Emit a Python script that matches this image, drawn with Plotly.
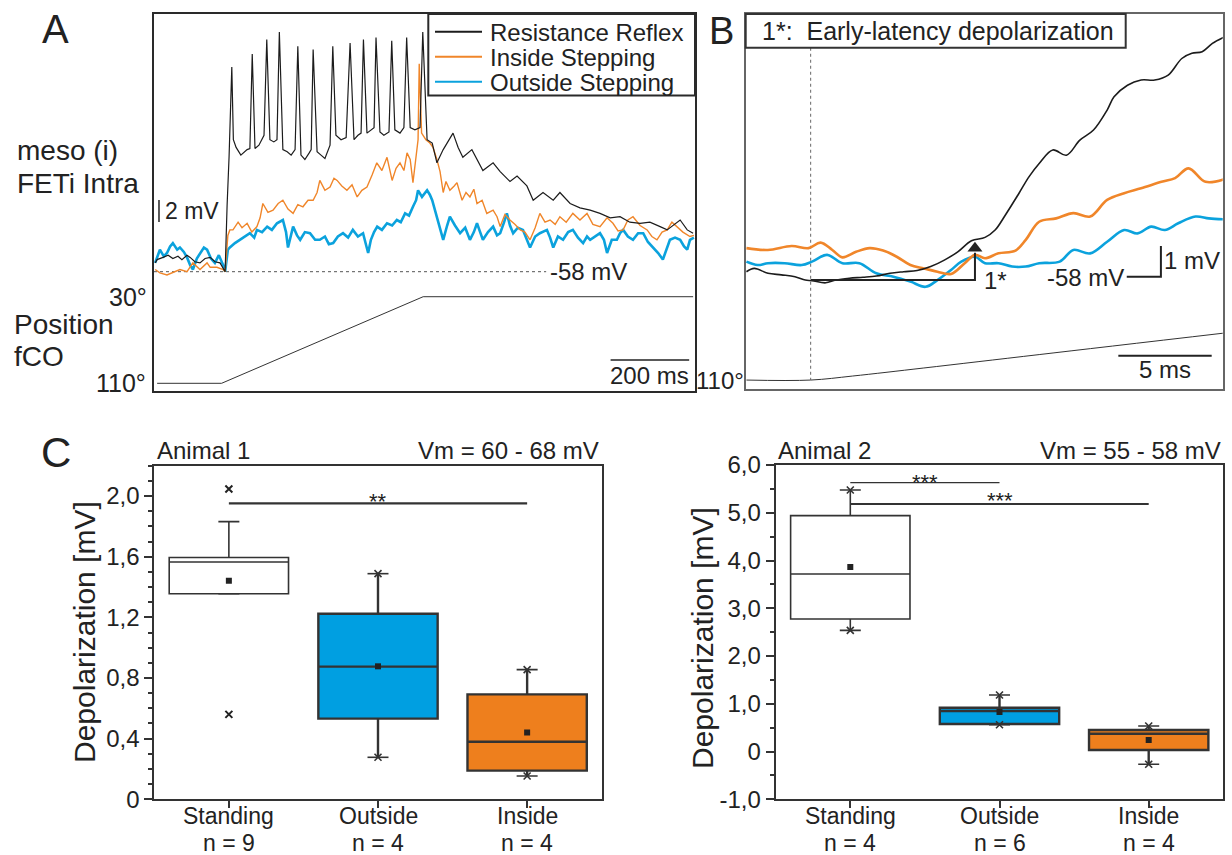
import plotly.graph_objects as go

W, H = 1232, 855
FONT = "Liberation Sans, Arial, Helvetica, sans-serif"
INK = "#222222"
FRAME = "#2a2a2a"
BLACK_TR = "#1c1c1c"
ORANGE = "#F0862A"
BLUE = "#0BA2DD"
BOX_BLUE = "#009FE1"
BOX_ORANGE = "#EE7F1D"

# ---------------- Panel A : time (ms) / membrane potential (mV) ----------------
a_black_t = [3, 8, 23, 36, 48, 61, 71, 84, 92, 104, 117, 130, 143, 155, 168, 181,
             186, 191, 198, 202, 209, 221, 237, 244,
             250, 257, 267, 280,
             287, 295, 305, 313,
             319, 328, 339, 349, 359,
             366, 374, 384, 395, 400,
             405, 415, 425, 435, 448,
             455, 463, 476, 489,
             499, 509, 519, 527,
             533, 542, 552, 560,
             565, 575, 585, 598,
             605, 613, 626, 636,
             643, 652, 664, 677,
             684, 695, 708, 720, 736, 761, 774, 786, 809, 837, 863, 881, 906, 924, 949, 965,
             990, 1016, 1033, 1059, 1084, 1110, 1135, 1161, 1186, 1211, 1237, 1262, 1288,
             1306, 1339, 1357, 1372]
a_black_v = [-57.2, -56.9, -56.7, -56.5, -56.8, -56.6, -56.9, -56.5, -56.7, -57.1, -57.2, -56.8, -56.7, -57.1, -57.2, -58.0,
             -52.0, -47.6, -39.4, -46.0, -46.7, -47.4, -46.9, -46.8,
             -38.2, -46.8, -46.5, -45.6,
             -36.9, -46.0, -46.2, -46.0,
             -36.2, -46.9, -47.1, -47.4, -46.9,
             -37.5, -47.4, -47.8, -47.2, -46.9,
             -37.8, -47.1, -47.4, -47.7, -46.5,
             -37.5, -45.6, -46.0, -45.8,
             -37.2, -46.0, -45.6, -45.4,
             -36.9, -45.4, -45.1, -44.9,
             -36.7, -45.3, -45.6, -45.3,
             -37.0, -45.1, -45.4, -44.9,
             -36.7, -44.9, -45.1, -44.9,
             -36.2, -46.0, -46.3, -48.1, -46.9, -45.4, -46.7, -47.6, -46.9, -48.8, -48.1, -48.9, -49.8, -49.3, -50.2, -51.5,
             -50.8, -51.5, -50.8, -51.8, -52.2, -52.4, -52.7, -53.1, -53.0, -53.5, -53.6, -53.5, -53.9,
             -54.2, -53.3, -54.2, -54.5]

a_orange_t = [3, 15, 33, 48, 66, 84, 99, 117, 135, 143, 160, 176, 181,
              188, 193, 201, 214, 224, 237, 249, 262, 270, 277, 290, 303, 316, 328, 341,
              354, 366, 379, 392, 405, 415, 422, 435, 448, 458, 466, 478, 491, 504, 517,
              529, 542, 555, 567, 580, 593, 606, 616, 626, 636, 644, 652, 659, 667, 672,
              675, 681, 692, 702, 710, 720, 728, 736, 743, 753, 764, 771, 784, 794, 804,
              814, 822, 835, 847, 863, 873, 881, 893, 906, 919, 932, 944, 957, 970, 982,
              995, 1008, 1021, 1033, 1049, 1066, 1084, 1102, 1117, 1135, 1153, 1168, 1181, 1194, 1206,
              1219, 1237, 1255, 1267, 1280, 1293, 1306, 1318, 1331, 1346, 1364, 1374]
a_orange_v = [-57.8, -58.1, -58.3, -58.1, -57.8, -58.0, -57.2, -57.8, -57.2, -57.6, -57.6, -57.8, -58.0,
              -54.7, -54.2, -54.2, -53.5, -54.0, -53.6, -54.4, -53.9, -53.1, -51.8, -52.6, -52.4, -51.8, -51.5, -52.3,
              -52.7, -51.9, -52.1, -51.5, -51.5, -50.8, -49.7, -50.6, -50.3, -49.5, -49.7, -50.2, -50.6, -50.1, -51.2,
              -50.6, -50.3, -49.2, -48.1, -48.8, -47.6, -49.7, -48.6, -48.1, -48.8, -47.2, -47.8, -49.9, -47.8, -46.0,
              -39.1, -45.4, -46.0, -46.3, -46.7, -47.8, -48.9, -50.8, -49.8, -50.6, -50.2, -49.9, -51.5, -50.8, -51.2,
              -50.5, -51.8, -51.5, -52.7, -52.4, -53.0, -53.9, -52.8, -53.3, -53.7, -54.2, -54.4, -55.1, -54.0, -52.7,
              -53.5, -53.3, -53.7, -53.0, -53.5, -52.7, -53.3, -52.7, -53.7, -53.9, -53.1, -53.6, -54.3, -54.2, -53.3,
              -53.0, -53.8, -54.2, -54.8, -55.1, -54.4, -54.2, -53.5, -53.9, -54.4, -54.8, -54.7]

a_blue_t = [3, 15, 25, 33, 41, 48, 59, 66, 76, 84, 92, 99, 109, 117, 127, 135, 145, 155, 165, 176, 181,
            188, 193, 206, 219, 232, 244, 255, 262, 275, 288, 300, 313, 328, 336, 341,
            349, 354, 364, 372, 384, 397, 410, 422, 435, 445, 456, 468, 481, 494, 506,
            519, 532, 539, 545, 552, 560, 568, 580, 593, 606, 618, 628, 639, 649, 659,
            667, 672, 682, 695, 702, 708, 715, 720, 728, 736, 746, 753, 766, 779, 792,
            804, 814, 822, 830, 837, 850, 863, 873, 881, 891, 898, 906, 914, 926, 939,
            949, 957, 970, 982, 1000, 1008, 1016, 1028, 1041, 1054, 1066, 1079, 1092, 1102, 1110,
            1122, 1135, 1145, 1153, 1165, 1178, 1186, 1194, 1206, 1219, 1232, 1245, 1257, 1270, 1283,
            1295, 1306, 1313, 1326, 1339, 1349, 1357, 1364, 1374]
a_blue_v = [-57.2, -56.0, -56.6, -56.3, -55.7, -55.4, -56.0, -55.8, -56.2, -56.7, -57.4, -57.8, -56.8, -56.3, -55.8, -56.0, -56.8, -57.2, -56.5, -57.4, -58.0,
            -56.0, -55.8, -55.4, -55.1, -54.8, -54.5, -54.9, -54.2, -54.4, -53.9, -54.2, -53.6, -53.3, -54.4, -55.8,
            -54.7, -53.9, -54.7, -55.1, -54.4, -54.5, -55.1, -55.1, -54.8, -55.5, -55.4, -54.8, -54.5, -54.9, -54.2,
            -54.8, -54.5, -55.6, -56.3, -55.1, -54.4, -53.9, -54.2, -53.6, -53.8, -53.3, -53.5, -52.7, -52.9, -52.1,
            -51.5, -50.6, -51.2, -50.6, -51.0, -51.5, -52.4, -53.0, -54.2, -55.1, -53.8, -53.0, -53.8, -54.5, -54.0,
            -55.1, -54.4, -53.6, -54.4, -55.1, -54.4, -53.9, -54.7, -54.5, -53.5, -52.7, -53.8, -54.5, -54.0, -54.2,
            -55.1, -55.8, -54.8, -54.5, -54.2, -54.9, -55.8, -54.8, -55.1, -54.4, -54.2, -54.9, -55.4, -54.8, -55.1,
            -54.8, -54.5, -55.1, -56.3, -55.1, -55.1, -54.5, -54.2, -54.8, -55.1, -54.5, -54.5, -55.3, -55.8, -56.3,
            -56.9, -55.8, -55.1, -54.9, -55.1, -55.7, -56.0, -55.1, -54.9]

# fCO position (degrees) in panel A
a_pos_t = [8, 172, 685, 1372]
a_pos_deg = [110, 110, 30, 30]

a_rest_mv = -58
a_rest_end_ms = 998
a_scale_mv = [-53.48, -51.48]      # 2 mV bar
a_scale_mv_t = 12.7
a_scale_ms = [1162, 1362]          # 200 ms bar
a_scale_ms_v = -66.03

# ---------------- Panel B : time (ms, 0 = stimulus onset) / mV ----------------
b_black_t = [-3.44, -3.02, -2.29, -1.57, -0.84, -0.29, 0.07, 0.80, 1.34, 2.07,
             2.80, 3.52, 4.25, 4.98, 5.70, 6.43, 7.16, 7.88, 8.61, 9.34,
             9.88, 10.43, 11.16, 11.70, 12.24, 12.97, 13.70, 14.42, 15.15, 15.88,
             16.25, 16.97, 17.70, 18.43, 19.15, 19.88, 20.42, 20.97, 21.52, 22.12]
b_black_v = [-57.84, -57.73, -57.89, -57.94, -58.00, -58.11, -58.13, -58.20, -58.11, -58.05,
             -58.02, -57.98, -57.89, -57.84, -57.80, -57.67, -57.46, -57.19, -56.83, -56.72,
             -56.48, -55.99, -55.28, -54.74, -54.31, -53.87, -54.04, -53.55, -53.22, -52.57,
             -52.14, -51.76, -51.59, -51.59, -51.43, -50.89, -50.72, -50.67, -50.40, -50.20]
b_orange_t = [-3.44, -2.29, -1.02, -0.11, 0.53, 1.16, 1.70, 2.43, 3.16, 3.88,
              4.61, 5.34, 6.07, 6.79, 7.52, 8.25, 8.80, 9.34, 10.06, 10.97,
              11.52, 12.24, 13.15, 14.07, 14.97, 15.88, 16.79, 17.70, 18.79, 19.52,
              20.24, 21.15, 22.12]
b_orange_v = [-57.07, -57.13, -57.00, -57.07, -56.89, -57.13, -57.37, -57.19, -57.07, -57.15,
              -57.35, -57.62, -57.73, -57.84, -57.91, -57.56, -57.29, -57.40, -57.24, -57.15,
              -56.80, -56.21, -56.10, -55.93, -56.04, -55.50, -55.28, -55.12, -54.91, -54.79,
              -54.47, -54.91, -54.83]
b_blue_t = [-3.44, -2.84, -2.29, -1.39, -0.48, 0.07, 0.88, 1.70, 2.61, 3.52,
            4.43, 5.34, 6.15, 6.79, 7.52, 8.07, 8.80, 9.34, 10.06, 10.79,
            11.52, 12.24, 13.34, 14.07, 14.97, 15.88, 16.79, 17.51, 18.24, 18.97,
            19.69, 20.61, 21.33, 22.12]
b_blue_v = [-57.51, -57.62, -57.56, -57.56, -57.62, -57.51, -57.29, -57.56, -57.56, -57.89,
            -58.00, -58.16, -58.33, -58.11, -57.78, -57.51, -57.35, -57.56, -57.56, -57.67,
            -57.67, -57.56, -57.51, -57.13, -57.24, -56.86, -56.48, -56.59, -56.37, -56.48,
            -56.26, -56.04, -56.10, -56.13]
b_pos_t = [-3.44, 0, 2.25, 6.06, 12.24, 22.12]
b_pos_deg = [110, 110, 109.7, 109.1, 108.1, 106.5]

b_onset_v = [-50.54, -61.36]       # dotted onset marker
b_early_t = 8.8                    # latency of early depolarization (1*)
b_early_base = -58.11
b_early_peak = -57.07
b_scale_mv_t = 18.76
b_scale_mv = [-58.0, -57.0]
b_scale_h = [16.93, 18.76]
b_scale_ms = [16.48, 21.48]        # 5 ms bar
b_scale_ms_v = -60.58

# ---------------- Panel C : box statistics ----------------
categories = ["Standing", "Outside", "Inside"]
box_fill = ["white", BOX_BLUE, BOX_ORANGE]

c1_n = ["n = 9", "n = 4", "n = 4"]
c1_q1 = [1.356, 0.532, 0.189]
c1_median = [1.565, 0.875, 0.380]
c1_q3 = [1.595, 1.224, 0.692]
c1_min = [1.356, 0.277, 0.154]
c1_max = [1.831, 1.488, 0.855]
c1_mean = [1.442, 0.877, 0.440]
c1_star = [False, True, True]
c1_outlier_x = [0, 0]
c1_outlier_y = [2.046, 0.560]
c1_sig = [(0, 2, 1.952, "**")]
c1_ticks = [0, 0.4, 0.8, 1.2, 1.6, 2.0]
c1_ticktext = ["0", "0,4", "0,8", "1,2", "1,6", "2,0"]

c2_n = ["n = 4", "n = 6", "n = 4"]
c2_q1 = [2.775, 0.577, 0.032]
c2_median = [3.717, 0.850, 0.374]
c2_q3 = [4.939, 0.918, 0.451]
c2_min = [2.538, 0.562, -0.267]
c2_max = [5.476, 1.184, 0.535]
c2_mean = [3.864, 0.830, 0.242]
c2_star = [True, True, True]
c2_sig = [(0, 1, 5.63, "***"), (0, 2, 5.183, "***")]
c2_ticks = [-1, 0, 1, 2, 3, 4, 5, 6]
c2_ticktext = ["-1,0", "0", "1,0", "2,0", "3,0", "4,0", "5,0", "6,0"]


def PX(x):
    return x / W


def PY(y):
    return 1 - y / H


fig = go.Figure()
ann = []
shapes = []


def T(text, x, y, size, xanchor="center", yanchor="middle", xref="paper", yref="paper", angle=0):
    if xref == "paper":
        x = PX(x)
    if yref == "paper":
        y = PY(y)
    ann.append(dict(text=text, x=x, y=y, xref=xref, yref=yref, xanchor=xanchor, yanchor=yanchor,
                    showarrow=False, textangle=angle, borderpad=0,
                    font=dict(family=FONT, size=size, color=INK)))


def line(x, y, color, width, xa, ya, dash=None, shape="linear"):
    fig.add_trace(go.Scatter(x=x, y=y, mode="lines", xaxis=xa, yaxis=ya, hoverinfo="skip",
                             line=dict(color=color, width=width, dash=dash, shape=shape)))


# ----- Panel A traces -----
line([0, a_rest_end_ms], [a_rest_mv, a_rest_mv], "#555", 1, "x", "y", dash="dot")
line(a_pos_t, a_pos_deg, "#333", 1, "x", "y2")
line(a_blue_t, a_blue_v, BLUE, 2.6, "x", "y")
line(a_orange_t, a_orange_v, ORANGE, 1.4, "x", "y")
line(a_black_t, a_black_v, BLACK_TR, 1.2, "x", "y")
line([a_scale_mv_t, a_scale_mv_t], a_scale_mv, "#222", 1.5, "x", "y")
line(a_scale_ms, [a_scale_ms_v, a_scale_ms_v], "#222", 1.5, "x", "y")

# ----- Panel B traces -----
line([0, 0], b_onset_v, "#666", 1, "x2", "y3", dash="dot")
line(b_pos_t, b_pos_deg, "#333", 1, "x2", "y4", shape="spline")
line(b_blue_t, b_blue_v, BLUE, 2.6, "x2", "y3", shape="spline")
line(b_orange_t, b_orange_v, ORANGE, 2.6, "x2", "y3", shape="spline")
line(b_black_t, b_black_v, BLACK_TR, 1.6, "x2", "y3", shape="spline")
line([0, b_early_t, b_early_t], [b_early_base, b_early_base, b_early_peak - 0.15], "#222", 2, "x2", "y3")
fig.add_trace(go.Scatter(x=[b_early_t], y=[b_early_peak], mode="markers", xaxis="x2", yaxis="y3",
                         hoverinfo="skip",
                         marker=dict(symbol="triangle-up", size=13, color="#222")))
line([b_scale_h[0], b_scale_h[1], b_scale_mv_t, b_scale_mv_t],
     [b_scale_mv[0], b_scale_mv[0], b_scale_mv[0], b_scale_mv[1]], "#222", 2, "x2", "y3")
line(b_scale_ms, [b_scale_ms_v, b_scale_ms_v], "#222", 2, "x2", "y3")


# ----- Panel C boxes -----
def box_panel(xa, ya, q1, med, q3, lo, hi, mean, star, sig):
    for i in range(3):
        lw = 1.6 if i == 0 else 2.4
        fig.add_trace(go.Box(x=[i], q1=[q1[i]], median=[med[i]], q3=[q3[i]],
                             lowerfence=[lo[i]], upperfence=[hi[i]], width=0.8,
                             fillcolor=box_fill[i], line=dict(color="#333", width=lw),
                             whiskerwidth=0, boxpoints=False, xaxis=xa, yaxis=ya,
                             hoverinfo="skip"))
    ends_x = [0, 1, 2, 0, 1, 2]
    ends_y = list(hi) + list(lo)
    fig.add_trace(go.Scatter(x=ends_x, y=ends_y, mode="markers", xaxis=xa, yaxis=ya, hoverinfo="skip",
                             marker=dict(symbol="line-ew-open", size=15, color="#333",
                                         line=dict(color="#333", width=1.6))))
    sx = [i for i in range(3) if star[i]] * 2
    sy = [hi[i] for i in range(3) if star[i]] + [lo[i] for i in range(3) if star[i]]
    fig.add_trace(go.Scatter(x=sx, y=sy, mode="markers", xaxis=xa, yaxis=ya, hoverinfo="skip",
                             marker=dict(symbol="x-thin-open", size=7, color="#333",
                                         line=dict(color="#333", width=1.6))))
    fig.add_trace(go.Scatter(x=[0, 1, 2], y=mean, mode="markers", xaxis=xa, yaxis=ya, hoverinfo="skip",
                             marker=dict(symbol="square", size=6, color="#222")))
    for k, (a, b, lvl, lab) in enumerate(sig):
        w = 2.2 if (b - a) == 2 else 1.2
        line([a, b], [lvl, lvl], "#333", w, xa, ya)


box_panel("x3", "y5", c1_q1, c1_median, c1_q3, c1_min, c1_max, c1_mean, c1_star, c1_sig)
fig.add_trace(go.Scatter(x=c1_outlier_x, y=c1_outlier_y, mode="markers", xaxis="x3", yaxis="y5",
                         hoverinfo="skip",
                         marker=dict(symbol="x-thin-open", size=7, color="#222",
                                     line=dict(color="#222", width=2))))
box_panel("x4", "y6", c2_q1, c2_median, c2_q3, c2_min, c2_max, c2_mean, c2_star, c2_sig)


# ----- axes -----
def frame(domain, rng, anchor, color, lw):
    return dict(domain=domain, range=rng, anchor=anchor, showline=True, mirror=True,
                linecolor=color, linewidth=lw, showgrid=False, zeroline=False, automargin=False,
                ticks="", showticklabels=False, fixedrange=True)


def c_x(domain, anchor):
    return dict(domain=domain, range=[-0.5, 2.5], anchor=anchor, tickmode="array", tickvals=[0, 1, 2],
                showticklabels=False, ticks="outside", ticklen=7, tickwidth=2, tickcolor="#333",
                showline=True, mirror=True, linecolor="#333", linewidth=2, automargin=False,
                showgrid=False, zeroline=False, fixedrange=True)


def c_y(domain, rng, anchor, tv, tt, minor_dt):
    return dict(domain=domain, range=rng, anchor=anchor, tickmode="array", tickvals=tv, ticktext=tt,
                ticks="outside", ticklen=8, tickwidth=2, tickcolor="#333",
                minor=dict(tick0=0, dtick=minor_dt, ticks="outside", ticklen=4, tickwidth=1.5,
                           tickcolor="#333", showgrid=False),
                tickfont=dict(family=FONT, size=24, color=INK), automargin=False,
                showline=True, mirror=True, linecolor="#333", linewidth=2,
                showgrid=False, zeroline=False, fixedrange=True)


layout = dict(
    width=W, height=H, autosize=False,
    margin=dict(l=0, r=0, t=0, b=0, pad=0, autoexpand=False),
    paper_bgcolor="white", plot_bgcolor="white",
    showlegend=False, hovermode=False, boxmode="overlay",
    font=dict(family=FONT, color=INK),
    xaxis=frame([PX(154), PX(695)], [0, 1376.8], "y", FRAME, 2),
    yaxis=frame([PY(390.7), PY(14)], [-68.82, -34.57], "x", FRAME, 2),
    yaxis2=dict(overlaying="y", anchor="x", range=[116.84, -231.2], visible=False, automargin=False,
                showgrid=False, zeroline=False, fixedrange=True),
    xaxis2=frame([PX(745.7), PX(1222.7)], [-3.48, 22.07], "y3", "#666", 1.5),
    yaxis3=frame([PY(389.3), PY(14)], [-61.67, -49.44], "x2", "#666", 1.5),
    yaxis4=dict(overlaying="y3", anchor="x2", range=[110.69, 82.69], visible=False, automargin=False,
                showgrid=False, zeroline=False, fixedrange=True),
    xaxis3=c_x([PX(154.3), PX(601.7)], "y5"),
    yaxis5=c_y([PY(799.3), PY(465.7)], [0, 2.2], "x3", c1_ticks, c1_ticktext, 0.1),
    xaxis4=c_x([PX(775.7), PX(1223.3)], "y6"),
    yaxis6=c_y([PY(799.3), PY(465)], [-1, 6], "x4", c2_ticks, c2_ticktext, 0.5),
)

# ----- legend of panel A and title box of panel B -----
shapes.append(dict(type="rect", xref="paper", yref="paper", x0=PX(428.3), x1=PX(695),
                   y0=PY(95.5), y1=PY(14), line=dict(color=FRAME, width=2), fillcolor="white"))
legend_names = ["Resistance Reflex", "Inside Stepping", "Outside Stepping"]
legend_cols = [BLACK_TR, ORANGE, BLUE]
legend_rows = [31.7, 56.7, 81.7]
for name, col, yy in zip(legend_names, legend_cols, legend_rows):
    shapes.append(dict(type="line", xref="paper", yref="paper", x0=PX(435), x1=PX(482),
                       y0=PY(yy), y1=PY(yy), line=dict(color=col, width=2)))
    T(name, 489, yy + 1, 24, xanchor="left")

shapes.append(dict(type="rect", xref="paper", yref="paper", x0=PX(745.7), x1=PX(1125.7),
                   y0=PY(47.7), y1=PY(14), line=dict(color="#333", width=2), fillcolor="white"))
T("1*:&nbsp; Early-latency depolarization", 761, 31, 25, xanchor="left")

# ----- panel A texts -----
T("A", 55, 29, 40)
T("meso (i)", 16, 150, 28, xanchor="left")
T("FETi Intra", 16, 183, 28, xanchor="left")
T("Position", 13, 325, 28, xanchor="left")
T("fCO", 13, 357, 28, xanchor="left")
T("30°", 148, 30, 25, xanchor="right", yref="y2")
T("110°", 147, 110, 25, xanchor="right", yref="y2")
T("2 mV", 25.5, -52.48, 23, xanchor="left", xref="x", yref="y")
T("-58 mV", 1005, -58.0, 24, xanchor="left", xref="x", yref="y")
T("200 ms", 1262, -67.4, 24, xref="x", yref="y")

# ----- panel B texts -----
T("B", 721, 31, 38)
T("110°", 745, 110, 24, xanchor="right", yref="y4")
T("1*", 9.23, -58.14, 24, xanchor="left", xref="x2", yref="y3")
T("-58 mV", 16.85, -58.02, 24, xanchor="right", xref="x2", yref="y3")
T("1 mV", 18.87, -57.46, 24, xanchor="left", xref="x2", yref="y3")
T("5 ms", 18.98, -61.04, 24, xref="x2", yref="y3")

# ----- panel C texts -----
T("C", 56, 452, 42)
T("Animal 1", 156, 450, 24, xanchor="left")
T("Vm = 60 - 68 mV", 600, 450, 24, xanchor="right")
T("Animal 2", 776.7, 450, 24, xanchor="left")
T("Vm = 55 - 58 mV", 1221.7, 450, 24, xanchor="right")
T("Depolarization [mV]", 84, 632, 30, angle=-90)
T("Depolarization [mV]", 702, 638, 30, angle=-90)
for i in range(3):
    T(categories[i], i, 816, 23, xref="x3")
    T(c1_n[i], i, 843, 23, xref="x3")
    T(categories[i], i, 816, 23, xref="x4")
    T(c2_n[i], i, 843, 23, xref="x4")
T("**", 1, 501, 22, xref="x3")
T("***", 0.5, 482, 22, xref="x4")
T("***", 1, 500, 22, xref="x4")

layout["annotations"] = ann
layout["shapes"] = shapes
fig.update_layout(**layout)
fig.write_html("out.html")
